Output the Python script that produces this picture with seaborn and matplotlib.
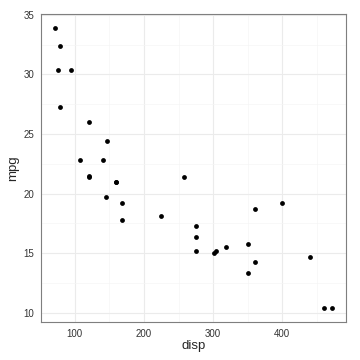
import matplotlib
matplotlib.use("Agg")
import matplotlib.pyplot as plt
import seaborn as sns
import pandas as pd
from matplotlib.ticker import MultipleLocator

disp = [160, 160, 108, 258, 360, 225, 360, 146.7, 140.8, 167.6, 167.6, 275.8, 275.8,
        275.8, 472, 460, 440, 78.7, 75.7, 71.1, 120.1, 318, 304, 350, 400, 79,
        120.3, 95.1, 351, 145, 301, 121]
mpg = [21.0, 21.0, 22.8, 21.4, 18.7, 18.1, 14.3, 24.4, 22.8, 19.2, 17.8, 16.4, 17.3,
       15.2, 10.4, 10.4, 14.7, 32.4, 30.4, 33.9, 21.5, 15.5, 15.2, 13.3, 19.2, 27.3,
       26.0, 30.4, 15.8, 19.7, 15.0, 21.4]
x_ticks = [100, 200, 300, 400]
y_ticks = [10, 15, 20, 25, 30, 35]

df = pd.DataFrame({"disp": disp, "mpg": mpg})

sns.set_style("white")
plt.rcParams['font.family'] = ['Liberation Sans', 'DejaVu Sans']

fig = plt.figure(figsize=(3.6, 3.6), dpi=100)
ax = fig.add_axes([41/360, 1 - 322/360, (346-41)/360, (322-14)/360])

sns.scatterplot(data=df, x="disp", y="mpg", ax=ax, color="black", s=12,
                edgecolor="black", linewidth=0, zorder=3)

xr = max(disp) - min(disp)
yr = max(mpg) - min(mpg)
ax.set_xlim(min(disp) - 0.05 * xr, max(disp) + 0.05 * xr)
ax.set_ylim(min(mpg) - 0.05 * yr, max(mpg) + 0.05 * yr)
ax.set_xticks(x_ticks)
ax.set_yticks(y_ticks)
ax.xaxis.set_minor_locator(MultipleLocator(50))
ax.yaxis.set_minor_locator(MultipleLocator(2.5))
ax.grid(True, which="major", color="#ebebeb", linewidth=0.8)
ax.grid(True, which="minor", color="#f5f5f5", linewidth=0.5)
ax.set_axisbelow(True)
for s in ax.spines.values():
    s.set_color("#7f7f7f")
    s.set_linewidth(0.8)
ax.tick_params(axis="both", which="major", length=3, width=0.6, color="#7f7f7f",
               labelsize=7, labelcolor="#333333", pad=2)
ax.tick_params(axis="both", which="minor", length=0)
ax.set_xlabel("disp", fontsize=9.5, labelpad=1)
ax.set_ylabel("mpg", fontsize=9.5, labelpad=3)

fig.savefig("out.png", dpi=100)
